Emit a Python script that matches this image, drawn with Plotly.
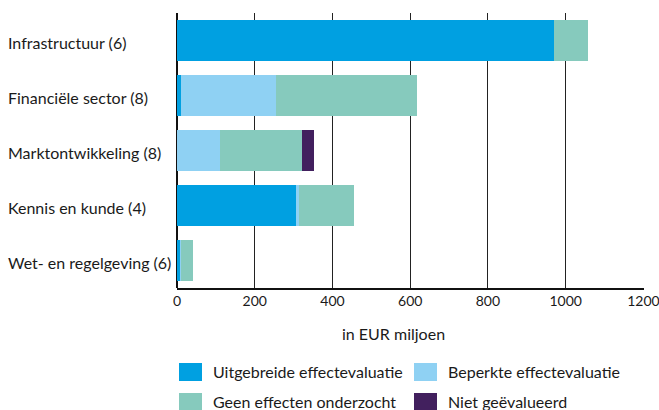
import plotly.graph_objects as go

categories = ["Infrastructuur (6)", "Financiële sector (8)", "Marktontwikkeling (8)",
              "Kennis en kunde (4)", "Wet- en regelgeving (6)"]
series_names = ["Uitgebreide effectevaluatie", "Beperkte effectevaluatie",
                "Geen effecten onderzocht", "Niet geëvalueerd"]
uitgebreid = [971, 10, 0, 305, 8]
beperkt = [0, 244, 110, 8, 3]
geen = [87, 364, 211, 143, 31]
niet = [0, 0, 31, 0, 0]
x_ticks = [0, 200, 400, 600, 800, 1000, 1200]
x_title = "in EUR miljoen"

colors = ["#00a0e1", "#8fd1f3", "#86cabd", "#42205e"]
values = [uitgebreid, beperkt, geen, niet]
FONT = "Lato"
TXT = "#1a1a1a"

fig = go.Figure()
for name, vals, col in zip(series_names, values, colors):
    fig.add_trace(go.Bar(y=categories, x=vals, name=name, orientation="h",
                         marker=dict(color=col, line=dict(width=0)),
                         showlegend=False, hoverinfo="skip"))

annotations = []
for c in categories:
    annotations.append(dict(x=0, xref="paper", xshift=-171, xanchor="left",
                            y=c, yref="y", yshift=-2, yanchor="middle",
                            text=c, showarrow=False,
                            font=dict(family=FONT, size=16, color=TXT)))
annotations.append(dict(x=0, xref="paper", xshift=216, xanchor="center",
                        y=0, yref="paper", yshift=-45, yanchor="middle",
                        text=x_title, showarrow=False,
                        font=dict(family=FONT, size=16, color=TXT)))

shapes = []
leg_pos = [(2, -84), (237, -84), (2, -114), (237, -114)]
for (px, py), name, col in zip(leg_pos, series_names, colors):
    shapes.append(dict(type="rect", xref="paper", yref="paper",
                       xsizemode="pixel", ysizemode="pixel",
                       xanchor=0, yanchor=0,
                       x0=px, x1=px + 23, y0=py - 9, y1=py + 9,
                       fillcolor=col, line=dict(width=0)))
    annotations.append(dict(x=0, xref="paper", xshift=px + 32, xanchor="left",
                            y=0, yref="paper", yshift=py + 1, yanchor="middle",
                            text=name, showarrow=False,
                            font=dict(family=FONT, size=16, color=TXT)))

fig.update_layout(
    barmode="stack",
    bargap=0.27,
    width=659, height=410,
    margin=dict(l=177, r=15, t=13, b=122, autoexpand=False),
    plot_bgcolor="white", paper_bgcolor="white",
    showlegend=False,
    hovermode=False,
    annotations=annotations,
    shapes=shapes,
    xaxis=dict(range=[0, 1201.5], tickvals=x_ticks, showgrid=True, automargin=False,
               ticklabeloverflow="allow",
               gridcolor="#222222", gridwidth=1, zeroline=True,
               zerolinecolor="#111111", zerolinewidth=1.5,
               showline=True, linecolor="#111111", linewidth=1.5,
               ticks="", tickfont=dict(family=FONT, size=14, color=TXT)),
    yaxis=dict(categoryorder="array", categoryarray=categories, automargin=False,
               range=[4.5, -0.5], showticklabels=False, showgrid=False,
               zeroline=False, showline=False, ticks=""),
)

# remove the browser's default 8px body margin so the figure fills the window
fig.write_html("out.html",
               config={"displayModeBar": False, "staticPlot": True},
               post_script="document.body.style.margin='0';document.body.style.overflow='hidden';")
